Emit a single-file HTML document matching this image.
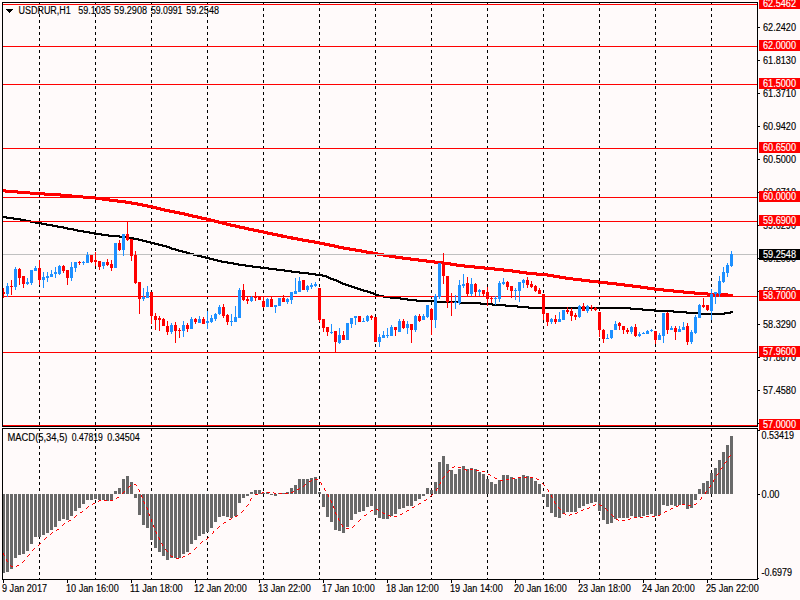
<!DOCTYPE html>
<html><head><meta charset="utf-8"><title>USDRUR,H1</title>
<style>html,body{margin:0;padding:0;background:#FFFAFA;}body{width:800px;height:600px;overflow:hidden;}svg{display:block;}text{font-family:"Liberation Sans",sans-serif;font-size:10px;stroke-width:0.15px;paint-order:stroke;}</style>
</head><body>
<svg width="800" height="600" viewBox="0 0 800 600">
<rect x="0" y="0" width="800" height="600" fill="#FFFAFA"/>
<g shape-rendering="crispEdges" stroke="#000" stroke-width="1" stroke-dasharray="3 3">
<line x1="39.5" y1="2" x2="39.5" y2="579"/>
<line x1="95.5" y1="2" x2="95.5" y2="579"/>
<line x1="151.5" y1="2" x2="151.5" y2="579"/>
<line x1="207.5" y1="2" x2="207.5" y2="579"/>
<line x1="263.5" y1="2" x2="263.5" y2="579"/>
<line x1="319.5" y1="2" x2="319.5" y2="579"/>
<line x1="375.5" y1="2" x2="375.5" y2="579"/>
<line x1="431.5" y1="2" x2="431.5" y2="579"/>
<line x1="487.5" y1="2" x2="487.5" y2="579"/>
<line x1="543.5" y1="2" x2="543.5" y2="579"/>
<line x1="599.5" y1="2" x2="599.5" y2="579"/>
<line x1="655.5" y1="2" x2="655.5" y2="579"/>
<line x1="711.5" y1="2" x2="711.5" y2="579"/>
</g>
<path shape-rendering="crispEdges" fill="#FF0000" d="M3,189h2v3h-2zM5,189h1v4h-1zM6,190h11v3h-11zM17,190h1v4h-1zM18,191h12v3h-12zM30,192h14v3h-14zM44,192h1v4h-1zM45,193h15v3h-15zM60,193h1v4h-1zM61,194h10v3h-10zM71,194h1v4h-1zM72,195h11v3h-11zM83,196h12v3h-12zM95,196h1v4h-1zM96,197h6v3h-6zM102,197h1v4h-1zM103,198h6v3h-6zM109,198h1v4h-1zM110,199h7v3h-7zM117,199h1v4h-1zM118,200h7v3h-7zM125,200h1v4h-1zM126,201h5v3h-5zM131,201h1v4h-1zM132,202h5v3h-5zM137,202h1v4h-1zM138,203h4v3h-4zM142,203h1v4h-1zM143,204h4v3h-4zM147,204h1v4h-1zM148,205h4v3h-4zM152,205h1v4h-1zM153,206h3v3h-3zM156,206h1v4h-1zM157,207h3v3h-3zM160,207h1v4h-1zM161,208h3v3h-3zM164,208h1v4h-1zM165,209h4v3h-4zM169,209h1v4h-1zM170,210h4v3h-4zM174,210h1v4h-1zM175,211h4v3h-4zM179,211h1v4h-1zM180,212h4v3h-4zM184,212h1v4h-1zM185,213h3v3h-3zM188,213h1v4h-1zM189,214h3v3h-3zM192,214h1v4h-1zM193,215h4v3h-4zM197,215h1v4h-1zM198,216h3v3h-3zM201,216h1v4h-1zM202,217h4v3h-4zM206,217h1v4h-1zM207,218h3v3h-3zM210,218h1v4h-1zM211,219h3v3h-3zM214,219h1v4h-1zM215,220h3v3h-3zM218,220h1v4h-1zM219,221h3v3h-3zM222,221h1v4h-1zM223,222h3v3h-3zM226,222h1v4h-1zM227,223h3v3h-3zM230,223h1v4h-1zM231,224h4v3h-4zM235,224h1v4h-1zM236,225h3v3h-3zM239,225h1v4h-1zM240,226h4v3h-4zM244,226h1v4h-1zM245,227h3v3h-3zM248,227h1v4h-1zM249,228h4v3h-4zM253,228h1v4h-1zM254,229h4v3h-4zM258,229h1v4h-1zM259,230h4v3h-4zM263,230h1v4h-1zM264,231h3v3h-3zM267,231h1v4h-1zM268,232h4v3h-4zM272,232h1v4h-1zM273,233h4v3h-4zM277,233h1v4h-1zM278,234h3v3h-3zM281,234h2v4h-2zM283,235h4v3h-4zM287,236h4v3h-4zM291,236h2v4h-2zM293,237h4v3h-4zM297,237h1v4h-1zM298,238h4v3h-4zM302,238h1v4h-1zM303,239h5v3h-5zM308,239h1v4h-1zM309,240h5v3h-5zM314,240h1v4h-1zM315,241h4v3h-4zM319,241h1v4h-1zM320,242h4v3h-4zM324,242h1v4h-1zM325,243h4v3h-4zM329,243h1v4h-1zM330,244h4v3h-4zM334,244h1v4h-1zM335,245h3v3h-3zM338,245h1v4h-1zM339,246h4v3h-4zM343,246h1v4h-1zM344,247h5v3h-5zM349,247h1v4h-1zM350,248h5v3h-5zM355,248h1v4h-1zM356,249h5v3h-5zM361,249h1v4h-1zM362,250h4v3h-4zM366,250h1v4h-1zM367,251h5v3h-5zM372,251h1v4h-1zM373,252h4v3h-4zM377,252h1v4h-1zM378,253h5v3h-5zM383,253h1v4h-1zM384,254h5v3h-5zM389,254h1v4h-1zM390,255h5v3h-5zM395,255h1v4h-1zM396,256h6v3h-6zM402,256h1v4h-1zM403,257h7v3h-7zM410,257h1v4h-1zM411,258h7v3h-7zM418,258h1v4h-1zM419,259h7v3h-7zM426,259h1v4h-1zM427,260h7v3h-7zM434,260h1v4h-1zM435,261h8v3h-8zM443,261h1v4h-1zM444,262h6v3h-6zM450,262h1v4h-1zM451,263h5v3h-5zM456,263h1v4h-1zM457,264h7v3h-7zM464,264h1v4h-1zM465,265h9v3h-9zM474,265h1v4h-1zM475,266h9v3h-9zM484,266h1v4h-1zM485,267h9v3h-9zM494,267h1v4h-1zM495,268h8v3h-8zM503,268h1v4h-1zM504,269h8v3h-8zM512,269h1v4h-1zM513,270h6v3h-6zM519,270h1v4h-1zM520,271h6v3h-6zM526,271h1v4h-1zM527,272h9v3h-9zM536,272h1v4h-1zM537,273h10v3h-10zM547,273h1v4h-1zM548,274h5v3h-5zM553,274h1v4h-1zM554,275h5v3h-5zM559,275h1v4h-1zM560,276h5v3h-5zM565,276h1v4h-1zM566,277h7v3h-7zM573,278h8v3h-8zM581,278h1v4h-1zM582,279h7v3h-7zM589,279h1v4h-1zM590,280h8v3h-8zM598,280h1v4h-1zM599,281h8v3h-8zM607,281h1v4h-1zM608,282h8v3h-8zM616,282h1v4h-1zM617,283h7v3h-7zM624,283h1v4h-1zM625,284h7v3h-7zM632,284h1v4h-1zM633,285h7v3h-7zM640,285h1v4h-1zM641,286h6v3h-6zM647,286h1v4h-1zM648,287h6v3h-6zM654,287h1v4h-1zM655,288h8v3h-8zM663,288h1v4h-1zM664,289h9v3h-9zM673,289h1v4h-1zM674,290h9v3h-9zM683,290h1v4h-1zM684,291h10v3h-10zM694,291h1v4h-1zM695,292h12v3h-12zM707,292h1v4h-1zM708,293h19v3h-19zM727,293h1v4h-1zM728,294h5v3h-5z"/>
<path shape-rendering="crispEdges" fill="#000" d="M3,216h3v2h-3zM6,216h1v3h-1zM7,217h6v2h-6zM13,217h1v3h-1zM14,218h6v2h-6zM20,218h1v3h-1zM21,219h4v2h-4zM25,219h1v3h-1zM26,220h4v2h-4zM30,220h1v3h-1zM31,221h4v2h-4zM35,221h1v3h-1zM36,222h5v2h-5zM41,222h1v3h-1zM42,223h4v2h-4zM46,223h1v3h-1zM47,224h5v2h-5zM52,224h1v3h-1zM53,225h4v2h-4zM57,225h1v3h-1zM58,226h5v2h-5zM63,226h1v3h-1zM64,227h3v2h-3zM67,227h1v3h-1zM68,228h5v2h-5zM73,228h1v3h-1zM74,229h3v2h-3zM77,229h1v3h-1zM78,230h5v2h-5zM83,230h1v3h-1zM84,231h5v2h-5zM89,231h1v3h-1zM90,232h4v2h-4zM94,232h1v3h-1zM95,233h6v2h-6zM101,233h1v3h-1zM102,234h6v2h-6zM108,234h1v3h-1zM109,235h10v2h-10zM119,235h1v3h-1zM120,236h8v2h-8zM128,236h1v3h-1zM129,237h4v2h-4zM133,237h1v3h-1zM134,238h4v2h-4zM138,238h1v3h-1zM139,239h3v2h-3zM142,239h1v3h-1zM143,240h3v2h-3zM146,240h1v3h-1zM147,241h3v2h-3zM150,241h1v3h-1zM151,242h3v2h-3zM154,242h1v3h-1zM155,243h3v2h-3zM158,243h1v3h-1zM159,244h3v2h-3zM162,244h1v3h-1zM163,245h3v2h-3zM166,245h1v3h-1zM167,246h2v2h-2zM169,246h1v3h-1zM170,247h1v2h-1zM171,247h1v3h-1zM172,248h3v2h-3zM175,248h1v3h-1zM176,249h2v2h-2zM178,249h1v3h-1zM179,250h3v2h-3zM182,250h1v3h-1zM183,251h3v2h-3zM186,251h1v3h-1zM187,252h2v2h-2zM189,252h1v3h-1zM190,253h3v2h-3zM193,253h1v3h-1zM194,254h3v2h-3zM197,254h1v3h-1zM198,255h3v2h-3zM201,255h1v3h-1zM202,256h3v2h-3zM205,256h1v3h-1zM206,257h3v2h-3zM209,257h1v3h-1zM210,258h3v2h-3zM213,258h1v3h-1zM214,259h3v2h-3zM217,259h1v3h-1zM218,260h3v2h-3zM221,260h1v3h-1zM222,261h5v2h-5zM227,261h1v3h-1zM228,262h5v2h-5zM233,262h1v3h-1zM234,263h4v2h-4zM238,263h1v3h-1zM239,264h6v2h-6zM245,264h1v3h-1zM246,265h6v2h-6zM252,265h1v3h-1zM253,266h7v2h-7zM260,266h1v3h-1zM261,267h7v2h-7zM268,267h1v3h-1zM269,268h7v2h-7zM276,268h1v3h-1zM277,269h7v2h-7zM284,269h1v3h-1zM285,270h6v2h-6zM291,270h1v3h-1zM292,271h7v2h-7zM299,271h1v3h-1zM300,272h8v2h-8zM308,272h1v3h-1zM309,273h6v2h-6zM315,273h1v3h-1zM316,274h6v2h-6zM322,274h1v3h-1zM323,275h3v2h-3zM326,275h1v3h-1zM327,276h1v2h-1zM328,276h1v3h-1zM329,277h1v2h-1zM330,277h1v3h-1zM331,278h2v2h-2zM333,278h1v3h-1zM334,279h2v2h-2zM336,279h1v3h-1zM337,280h1v2h-1zM338,280h1v3h-1zM339,281h1v2h-1zM340,281h1v3h-1zM341,282h1v2h-1zM342,282h1v3h-1zM343,283h2v2h-2zM345,283h1v3h-1zM346,284h2v2h-2zM348,284h1v3h-1zM349,285h2v2h-2zM351,285h1v3h-1zM352,286h2v2h-2zM354,286h1v3h-1zM355,287h2v2h-2zM357,287h1v3h-1zM358,288h2v2h-2zM360,288h1v3h-1zM361,289h2v2h-2zM363,289h1v3h-1zM364,290h3v2h-3zM367,290h1v3h-1zM368,291h2v2h-2zM370,291h1v3h-1zM371,292h2v2h-2zM373,292h1v3h-1zM374,293h1v2h-1zM375,293h1v3h-1zM376,294h2v2h-2zM378,294h1v3h-1zM379,295h4v2h-4zM383,295h1v3h-1zM384,296h6v2h-6zM390,296h1v3h-1zM391,297h9v2h-9zM400,297h1v3h-1zM401,298h6v2h-6zM407,298h1v3h-1zM408,299h8v2h-8zM416,299h1v3h-1zM417,300h19v2h-19zM436,300h1v3h-1zM437,301h23v2h-23zM460,301h1v3h-1zM461,302h19v2h-19zM480,302h1v3h-1zM481,303h11v2h-11zM492,303h1v3h-1zM493,304h12v2h-12zM505,304h1v3h-1zM506,305h11v2h-11zM517,305h1v3h-1zM518,306h10v2h-10zM528,306h1v3h-1zM529,307h101v2h-101zM630,307h1v3h-1zM631,308h11v2h-11zM642,308h1v3h-1zM643,309h11v2h-11zM654,309h1v3h-1zM655,310h18v2h-18zM673,310h1v3h-1zM674,311h12v2h-12zM686,311h1v3h-1zM687,312h13v2h-13zM700,312h1v3h-1zM701,313h23v2h-23zM724,312h1v3h-1zM725,312h5v2h-5zM730,311h1v3h-1zM731,311h2v2h-2z"/>
<g shape-rendering="crispEdges">
<rect x="3" y="254" width="754" height="1" fill="#C0C0C0"/>
<rect x="3" y="4" width="754" height="1" fill="#FF0000"/>
<rect x="3" y="46" width="754" height="1" fill="#FF0000"/>
<rect x="3" y="84" width="754" height="1" fill="#FF0000"/>
<rect x="3" y="148" width="754" height="1" fill="#FF0000"/>
<rect x="3" y="197" width="754" height="1" fill="#FF0000"/>
<rect x="3" y="221" width="754" height="1" fill="#FF0000"/>
<rect x="3" y="296" width="754" height="1" fill="#FF0000"/>
<rect x="3" y="352" width="754" height="1" fill="#FF0000"/>
<rect x="3" y="425" width="754" height="1" fill="#FF0000"/>
</g>
<g shape-rendering="crispEdges">
<rect x="3" y="288" width="1" height="10" fill="#FF0000"/>
<rect x="2" y="292" width="3" height="2" fill="#FF0000"/>
<rect x="7" y="283" width="1" height="14" fill="#1E90FF"/>
<rect x="6" y="286" width="3" height="8" fill="#1E90FF"/>
<rect x="11" y="280" width="1" height="15" fill="#FF0000"/>
<rect x="10" y="286" width="3" height="1" fill="#FF0000"/>
<rect x="15" y="267" width="1" height="23" fill="#1E90FF"/>
<rect x="14" y="269" width="3" height="18" fill="#1E90FF"/>
<rect x="19" y="268" width="1" height="17" fill="#FF0000"/>
<rect x="18" y="269" width="3" height="9" fill="#FF0000"/>
<rect x="23" y="276" width="1" height="12" fill="#FF0000"/>
<rect x="22" y="276" width="3" height="8" fill="#FF0000"/>
<rect x="27" y="278" width="1" height="7" fill="#1E90FF"/>
<rect x="26" y="282" width="3" height="2" fill="#1E90FF"/>
<rect x="31" y="270" width="1" height="15" fill="#1E90FF"/>
<rect x="30" y="270" width="3" height="13" fill="#1E90FF"/>
<rect x="35" y="266" width="1" height="5" fill="#1E90FF"/>
<rect x="34" y="268" width="3" height="3" fill="#1E90FF"/>
<rect x="39" y="260" width="1" height="25" fill="#FF0000"/>
<rect x="38" y="268" width="3" height="12" fill="#FF0000"/>
<rect x="43" y="272" width="1" height="16" fill="#1E90FF"/>
<rect x="42" y="277" width="3" height="3" fill="#1E90FF"/>
<rect x="47" y="272" width="1" height="10" fill="#1E90FF"/>
<rect x="46" y="276" width="3" height="2" fill="#1E90FF"/>
<rect x="51" y="270" width="1" height="7" fill="#1E90FF"/>
<rect x="50" y="274" width="3" height="3" fill="#1E90FF"/>
<rect x="55" y="267" width="1" height="11" fill="#1E90FF"/>
<rect x="54" y="272" width="3" height="2" fill="#1E90FF"/>
<rect x="59" y="265" width="1" height="10" fill="#1E90FF"/>
<rect x="58" y="266" width="3" height="8" fill="#1E90FF"/>
<rect x="63" y="265" width="1" height="8" fill="#FF0000"/>
<rect x="62" y="266" width="3" height="5" fill="#FF0000"/>
<rect x="67" y="270" width="1" height="15" fill="#FF0000"/>
<rect x="66" y="270" width="3" height="8" fill="#FF0000"/>
<rect x="71" y="262" width="1" height="19" fill="#1E90FF"/>
<rect x="70" y="267" width="3" height="11" fill="#1E90FF"/>
<rect x="75" y="262" width="1" height="10" fill="#1E90FF"/>
<rect x="74" y="262" width="3" height="6" fill="#1E90FF"/>
<rect x="79" y="261" width="1" height="4" fill="#FF0000"/>
<rect x="78" y="262" width="3" height="1" fill="#FF0000"/>
<rect x="83" y="261" width="1" height="4" fill="#1E90FF"/>
<rect x="82" y="262" width="3" height="1" fill="#1E90FF"/>
<rect x="87" y="252" width="1" height="11" fill="#1E90FF"/>
<rect x="86" y="255" width="3" height="8" fill="#1E90FF"/>
<rect x="91" y="255" width="1" height="8" fill="#FF0000"/>
<rect x="90" y="255" width="3" height="7" fill="#FF0000"/>
<rect x="95" y="252" width="1" height="14" fill="#FF0000"/>
<rect x="94" y="260" width="3" height="2" fill="#FF0000"/>
<rect x="99" y="261" width="1" height="9" fill="#FF0000"/>
<rect x="98" y="261" width="3" height="6" fill="#FF0000"/>
<rect x="103" y="262" width="1" height="7" fill="#1E90FF"/>
<rect x="102" y="262" width="3" height="4" fill="#1E90FF"/>
<rect x="107" y="259" width="1" height="7" fill="#FF0000"/>
<rect x="106" y="262" width="3" height="3" fill="#FF0000"/>
<rect x="111" y="260" width="1" height="11" fill="#FF0000"/>
<rect x="110" y="264" width="3" height="4" fill="#FF0000"/>
<rect x="115" y="243" width="1" height="25" fill="#1E90FF"/>
<rect x="114" y="243" width="3" height="25" fill="#1E90FF"/>
<rect x="119" y="240" width="1" height="11" fill="#FF0000"/>
<rect x="118" y="243" width="3" height="7" fill="#FF0000"/>
<rect x="123" y="234" width="1" height="22" fill="#1E90FF"/>
<rect x="122" y="234" width="3" height="16" fill="#1E90FF"/>
<rect x="127" y="221" width="1" height="20" fill="#FF0000"/>
<rect x="126" y="234" width="3" height="6" fill="#FF0000"/>
<rect x="131" y="239" width="1" height="22" fill="#FF0000"/>
<rect x="130" y="239" width="3" height="17" fill="#FF0000"/>
<rect x="135" y="251" width="1" height="33" fill="#FF0000"/>
<rect x="134" y="255" width="3" height="28" fill="#FF0000"/>
<rect x="139" y="282" width="1" height="32" fill="#FF0000"/>
<rect x="138" y="282" width="3" height="17" fill="#FF0000"/>
<rect x="143" y="288" width="1" height="13" fill="#1E90FF"/>
<rect x="142" y="297" width="3" height="2" fill="#1E90FF"/>
<rect x="147" y="286" width="1" height="12" fill="#1E90FF"/>
<rect x="146" y="292" width="3" height="6" fill="#1E90FF"/>
<rect x="151" y="292" width="1" height="32" fill="#FF0000"/>
<rect x="150" y="292" width="3" height="24" fill="#FF0000"/>
<rect x="155" y="313" width="1" height="17" fill="#FF0000"/>
<rect x="154" y="316" width="3" height="4" fill="#FF0000"/>
<rect x="159" y="316" width="1" height="15" fill="#FF0000"/>
<rect x="158" y="318" width="3" height="2" fill="#FF0000"/>
<rect x="163" y="318" width="1" height="8" fill="#FF0000"/>
<rect x="162" y="319" width="3" height="7" fill="#FF0000"/>
<rect x="167" y="321" width="1" height="14" fill="#FF0000"/>
<rect x="166" y="326" width="3" height="6" fill="#FF0000"/>
<rect x="171" y="323" width="1" height="11" fill="#1E90FF"/>
<rect x="170" y="325" width="3" height="7" fill="#1E90FF"/>
<rect x="175" y="322" width="1" height="21" fill="#FF0000"/>
<rect x="174" y="325" width="3" height="6" fill="#FF0000"/>
<rect x="179" y="328" width="1" height="10" fill="#FF0000"/>
<rect x="178" y="330" width="3" height="1" fill="#FF0000"/>
<rect x="183" y="321" width="1" height="16" fill="#1E90FF"/>
<rect x="182" y="325" width="3" height="6" fill="#1E90FF"/>
<rect x="187" y="323" width="1" height="9" fill="#FF0000"/>
<rect x="186" y="325" width="3" height="4" fill="#FF0000"/>
<rect x="191" y="317" width="1" height="12" fill="#1E90FF"/>
<rect x="190" y="319" width="3" height="10" fill="#1E90FF"/>
<rect x="195" y="318" width="1" height="6" fill="#FF0000"/>
<rect x="194" y="319" width="3" height="3" fill="#FF0000"/>
<rect x="199" y="316" width="1" height="7" fill="#1E90FF"/>
<rect x="198" y="319" width="3" height="4" fill="#1E90FF"/>
<rect x="203" y="317" width="1" height="7" fill="#FF0000"/>
<rect x="202" y="319" width="3" height="5" fill="#FF0000"/>
<rect x="207" y="311" width="1" height="18" fill="#1E90FF"/>
<rect x="206" y="321" width="3" height="2" fill="#1E90FF"/>
<rect x="211" y="315" width="1" height="8" fill="#1E90FF"/>
<rect x="210" y="318" width="3" height="4" fill="#1E90FF"/>
<rect x="215" y="313" width="1" height="8" fill="#1E90FF"/>
<rect x="214" y="314" width="3" height="5" fill="#1E90FF"/>
<rect x="219" y="305" width="1" height="10" fill="#1E90FF"/>
<rect x="218" y="307" width="3" height="7" fill="#1E90FF"/>
<rect x="223" y="304" width="1" height="14" fill="#FF0000"/>
<rect x="222" y="307" width="3" height="9" fill="#FF0000"/>
<rect x="227" y="314" width="1" height="11" fill="#FF0000"/>
<rect x="226" y="315" width="3" height="7" fill="#FF0000"/>
<rect x="231" y="314" width="1" height="12" fill="#1E90FF"/>
<rect x="230" y="321" width="3" height="1" fill="#1E90FF"/>
<rect x="235" y="306" width="1" height="16" fill="#1E90FF"/>
<rect x="234" y="317" width="3" height="5" fill="#1E90FF"/>
<rect x="239" y="288" width="1" height="30" fill="#1E90FF"/>
<rect x="238" y="290" width="3" height="28" fill="#1E90FF"/>
<rect x="243" y="284" width="1" height="17" fill="#FF0000"/>
<rect x="242" y="290" width="3" height="10" fill="#FF0000"/>
<rect x="247" y="296" width="1" height="8" fill="#FF0000"/>
<rect x="246" y="299" width="3" height="2" fill="#FF0000"/>
<rect x="251" y="296" width="1" height="6" fill="#1E90FF"/>
<rect x="250" y="297" width="3" height="4" fill="#1E90FF"/>
<rect x="255" y="292" width="1" height="9" fill="#FF0000"/>
<rect x="254" y="296" width="3" height="2" fill="#FF0000"/>
<rect x="259" y="296" width="1" height="4" fill="#FF0000"/>
<rect x="258" y="296" width="3" height="4" fill="#FF0000"/>
<rect x="263" y="297" width="1" height="11" fill="#FF0000"/>
<rect x="262" y="301" width="3" height="6" fill="#FF0000"/>
<rect x="267" y="298" width="1" height="9" fill="#1E90FF"/>
<rect x="266" y="299" width="3" height="8" fill="#1E90FF"/>
<rect x="271" y="296" width="1" height="11" fill="#FF0000"/>
<rect x="270" y="299" width="3" height="8" fill="#FF0000"/>
<rect x="275" y="305" width="1" height="8" fill="#1E90FF"/>
<rect x="274" y="305" width="3" height="2" fill="#1E90FF"/>
<rect x="279" y="298" width="1" height="8" fill="#1E90FF"/>
<rect x="278" y="298" width="3" height="8" fill="#1E90FF"/>
<rect x="283" y="295" width="1" height="7" fill="#FF0000"/>
<rect x="282" y="298" width="3" height="4" fill="#FF0000"/>
<rect x="287" y="298" width="1" height="6" fill="#1E90FF"/>
<rect x="286" y="299" width="3" height="3" fill="#1E90FF"/>
<rect x="291" y="292" width="1" height="12" fill="#1E90FF"/>
<rect x="290" y="292" width="3" height="8" fill="#1E90FF"/>
<rect x="295" y="278" width="1" height="16" fill="#1E90FF"/>
<rect x="294" y="291" width="3" height="3" fill="#1E90FF"/>
<rect x="299" y="277" width="1" height="15" fill="#1E90FF"/>
<rect x="298" y="281" width="3" height="11" fill="#1E90FF"/>
<rect x="303" y="280" width="1" height="10" fill="#FF0000"/>
<rect x="302" y="280" width="3" height="10" fill="#FF0000"/>
<rect x="307" y="285" width="1" height="7" fill="#1E90FF"/>
<rect x="306" y="286" width="3" height="4" fill="#1E90FF"/>
<rect x="311" y="283" width="1" height="6" fill="#1E90FF"/>
<rect x="310" y="285" width="3" height="2" fill="#1E90FF"/>
<rect x="315" y="282" width="1" height="5" fill="#1E90FF"/>
<rect x="314" y="284" width="3" height="2" fill="#1E90FF"/>
<rect x="319" y="288" width="1" height="34" fill="#FF0000"/>
<rect x="318" y="288" width="3" height="32" fill="#FF0000"/>
<rect x="323" y="319" width="1" height="13" fill="#FF0000"/>
<rect x="322" y="319" width="3" height="9" fill="#FF0000"/>
<rect x="327" y="327" width="1" height="9" fill="#FF0000"/>
<rect x="326" y="327" width="3" height="5" fill="#FF0000"/>
<rect x="331" y="324" width="1" height="10" fill="#1E90FF"/>
<rect x="330" y="332" width="3" height="1" fill="#1E90FF"/>
<rect x="335" y="331" width="1" height="21" fill="#FF0000"/>
<rect x="334" y="331" width="3" height="11" fill="#FF0000"/>
<rect x="339" y="328" width="1" height="16" fill="#1E90FF"/>
<rect x="338" y="335" width="3" height="8" fill="#1E90FF"/>
<rect x="343" y="331" width="1" height="9" fill="#FF0000"/>
<rect x="342" y="335" width="3" height="5" fill="#FF0000"/>
<rect x="347" y="323" width="1" height="17" fill="#1E90FF"/>
<rect x="346" y="323" width="3" height="17" fill="#1E90FF"/>
<rect x="351" y="318" width="1" height="10" fill="#1E90FF"/>
<rect x="350" y="318" width="3" height="6" fill="#1E90FF"/>
<rect x="355" y="316" width="1" height="9" fill="#1E90FF"/>
<rect x="354" y="316" width="3" height="2" fill="#1E90FF"/>
<rect x="359" y="316" width="1" height="6" fill="#FF0000"/>
<rect x="358" y="316" width="3" height="6" fill="#FF0000"/>
<rect x="363" y="318" width="1" height="4" fill="#1E90FF"/>
<rect x="362" y="321" width="3" height="1" fill="#1E90FF"/>
<rect x="367" y="315" width="1" height="7" fill="#1E90FF"/>
<rect x="366" y="316" width="3" height="5" fill="#1E90FF"/>
<rect x="371" y="315" width="1" height="5" fill="#FF0000"/>
<rect x="370" y="316" width="3" height="2" fill="#FF0000"/>
<rect x="375" y="317" width="1" height="25" fill="#FF0000"/>
<rect x="374" y="317" width="3" height="25" fill="#FF0000"/>
<rect x="379" y="334" width="1" height="13" fill="#1E90FF"/>
<rect x="378" y="337" width="3" height="5" fill="#1E90FF"/>
<rect x="383" y="331" width="1" height="7" fill="#1E90FF"/>
<rect x="382" y="335" width="3" height="3" fill="#1E90FF"/>
<rect x="387" y="328" width="1" height="10" fill="#1E90FF"/>
<rect x="386" y="335" width="3" height="1" fill="#1E90FF"/>
<rect x="391" y="325" width="1" height="11" fill="#1E90FF"/>
<rect x="390" y="327" width="3" height="9" fill="#1E90FF"/>
<rect x="395" y="327" width="1" height="9" fill="#FF0000"/>
<rect x="394" y="327" width="3" height="3" fill="#FF0000"/>
<rect x="399" y="319" width="1" height="13" fill="#1E90FF"/>
<rect x="398" y="321" width="3" height="11" fill="#1E90FF"/>
<rect x="403" y="319" width="1" height="10" fill="#FF0000"/>
<rect x="402" y="321" width="3" height="7" fill="#FF0000"/>
<rect x="407" y="321" width="1" height="13" fill="#1E90FF"/>
<rect x="406" y="324" width="3" height="4" fill="#1E90FF"/>
<rect x="411" y="324" width="1" height="19" fill="#FF0000"/>
<rect x="410" y="324" width="3" height="6" fill="#FF0000"/>
<rect x="415" y="315" width="1" height="17" fill="#1E90FF"/>
<rect x="414" y="316" width="3" height="14" fill="#1E90FF"/>
<rect x="419" y="314" width="1" height="8" fill="#FF0000"/>
<rect x="418" y="316" width="3" height="5" fill="#FF0000"/>
<rect x="423" y="314" width="1" height="6" fill="#1E90FF"/>
<rect x="422" y="316" width="3" height="4" fill="#1E90FF"/>
<rect x="427" y="305" width="1" height="13" fill="#1E90FF"/>
<rect x="426" y="305" width="3" height="12" fill="#1E90FF"/>
<rect x="431" y="308" width="1" height="27" fill="#FF0000"/>
<rect x="430" y="309" width="3" height="11" fill="#FF0000"/>
<rect x="435" y="294" width="1" height="34" fill="#1E90FF"/>
<rect x="434" y="296" width="3" height="24" fill="#1E90FF"/>
<rect x="439" y="263" width="1" height="36" fill="#1E90FF"/>
<rect x="438" y="263" width="3" height="34" fill="#1E90FF"/>
<rect x="443" y="253" width="1" height="31" fill="#FF0000"/>
<rect x="442" y="262" width="3" height="14" fill="#FF0000"/>
<rect x="447" y="276" width="1" height="32" fill="#FF0000"/>
<rect x="446" y="276" width="3" height="26" fill="#FF0000"/>
<rect x="451" y="293" width="1" height="23" fill="#FF0000"/>
<rect x="450" y="302" width="3" height="1" fill="#FF0000"/>
<rect x="455" y="295" width="1" height="14" fill="#1E90FF"/>
<rect x="454" y="302" width="3" height="1" fill="#1E90FF"/>
<rect x="459" y="280" width="1" height="25" fill="#1E90FF"/>
<rect x="458" y="285" width="3" height="18" fill="#1E90FF"/>
<rect x="463" y="274" width="1" height="14" fill="#1E90FF"/>
<rect x="462" y="284" width="3" height="2" fill="#1E90FF"/>
<rect x="467" y="277" width="1" height="19" fill="#FF0000"/>
<rect x="466" y="283" width="3" height="11" fill="#FF0000"/>
<rect x="471" y="278" width="1" height="18" fill="#1E90FF"/>
<rect x="470" y="284" width="3" height="10" fill="#1E90FF"/>
<rect x="475" y="283" width="1" height="13" fill="#FF0000"/>
<rect x="474" y="284" width="3" height="8" fill="#FF0000"/>
<rect x="479" y="289" width="1" height="7" fill="#1E90FF"/>
<rect x="478" y="290" width="3" height="2" fill="#1E90FF"/>
<rect x="483" y="290" width="1" height="6" fill="#FF0000"/>
<rect x="482" y="290" width="3" height="4" fill="#FF0000"/>
<rect x="487" y="287" width="1" height="19" fill="#FF0000"/>
<rect x="486" y="292" width="3" height="7" fill="#FF0000"/>
<rect x="491" y="297" width="1" height="6" fill="#FF0000"/>
<rect x="490" y="298" width="3" height="1" fill="#FF0000"/>
<rect x="495" y="296" width="1" height="9" fill="#1E90FF"/>
<rect x="494" y="298" width="3" height="1" fill="#1E90FF"/>
<rect x="499" y="281" width="1" height="21" fill="#1E90FF"/>
<rect x="498" y="283" width="3" height="16" fill="#1E90FF"/>
<rect x="503" y="278" width="1" height="7" fill="#1E90FF"/>
<rect x="502" y="282" width="3" height="2" fill="#1E90FF"/>
<rect x="507" y="281" width="1" height="9" fill="#FF0000"/>
<rect x="506" y="282" width="3" height="5" fill="#FF0000"/>
<rect x="511" y="286" width="1" height="12" fill="#FF0000"/>
<rect x="510" y="286" width="3" height="5" fill="#FF0000"/>
<rect x="515" y="288" width="1" height="12" fill="#1E90FF"/>
<rect x="514" y="290" width="3" height="1" fill="#1E90FF"/>
<rect x="519" y="282" width="1" height="20" fill="#1E90FF"/>
<rect x="518" y="282" width="3" height="9" fill="#1E90FF"/>
<rect x="523" y="279" width="1" height="9" fill="#1E90FF"/>
<rect x="522" y="280" width="3" height="3" fill="#1E90FF"/>
<rect x="527" y="277" width="1" height="11" fill="#FF0000"/>
<rect x="526" y="280" width="3" height="5" fill="#FF0000"/>
<rect x="531" y="281" width="1" height="7" fill="#FF0000"/>
<rect x="530" y="284" width="3" height="3" fill="#FF0000"/>
<rect x="535" y="285" width="1" height="7" fill="#FF0000"/>
<rect x="534" y="286" width="3" height="5" fill="#FF0000"/>
<rect x="539" y="288" width="1" height="6" fill="#FF0000"/>
<rect x="538" y="290" width="3" height="4" fill="#FF0000"/>
<rect x="543" y="294" width="1" height="26" fill="#FF0000"/>
<rect x="542" y="294" width="3" height="20" fill="#FF0000"/>
<rect x="547" y="313" width="1" height="13" fill="#FF0000"/>
<rect x="546" y="313" width="3" height="9" fill="#FF0000"/>
<rect x="551" y="318" width="1" height="6" fill="#1E90FF"/>
<rect x="550" y="319" width="3" height="3" fill="#1E90FF"/>
<rect x="555" y="315" width="1" height="9" fill="#FF0000"/>
<rect x="554" y="319" width="3" height="3" fill="#FF0000"/>
<rect x="559" y="312" width="1" height="10" fill="#1E90FF"/>
<rect x="558" y="319" width="3" height="3" fill="#1E90FF"/>
<rect x="563" y="310" width="1" height="10" fill="#1E90FF"/>
<rect x="562" y="310" width="3" height="10" fill="#1E90FF"/>
<rect x="567" y="307" width="1" height="7" fill="#FF0000"/>
<rect x="566" y="310" width="3" height="2" fill="#FF0000"/>
<rect x="571" y="308" width="1" height="13" fill="#FF0000"/>
<rect x="570" y="311" width="3" height="5" fill="#FF0000"/>
<rect x="575" y="313" width="1" height="7" fill="#FF0000"/>
<rect x="574" y="315" width="3" height="2" fill="#FF0000"/>
<rect x="579" y="305" width="1" height="13" fill="#1E90FF"/>
<rect x="578" y="306" width="3" height="11" fill="#1E90FF"/>
<rect x="583" y="303" width="1" height="8" fill="#FF0000"/>
<rect x="582" y="306" width="3" height="5" fill="#FF0000"/>
<rect x="587" y="305" width="1" height="8" fill="#1E90FF"/>
<rect x="586" y="306" width="3" height="5" fill="#1E90FF"/>
<rect x="591" y="305" width="1" height="6" fill="#FF0000"/>
<rect x="590" y="307" width="3" height="1" fill="#FF0000"/>
<rect x="595" y="307" width="1" height="4" fill="#FF0000"/>
<rect x="594" y="308" width="3" height="2" fill="#FF0000"/>
<rect x="599" y="312" width="1" height="25" fill="#FF0000"/>
<rect x="598" y="312" width="3" height="18" fill="#FF0000"/>
<rect x="603" y="329" width="1" height="14" fill="#FF0000"/>
<rect x="602" y="330" width="3" height="9" fill="#FF0000"/>
<rect x="607" y="334" width="1" height="5" fill="#1E90FF"/>
<rect x="606" y="338" width="3" height="1" fill="#1E90FF"/>
<rect x="611" y="330" width="1" height="9" fill="#1E90FF"/>
<rect x="610" y="330" width="3" height="8" fill="#1E90FF"/>
<rect x="615" y="321" width="1" height="9" fill="#1E90FF"/>
<rect x="614" y="324" width="3" height="6" fill="#1E90FF"/>
<rect x="619" y="322" width="1" height="8" fill="#FF0000"/>
<rect x="618" y="323" width="3" height="3" fill="#FF0000"/>
<rect x="623" y="326" width="1" height="8" fill="#FF0000"/>
<rect x="622" y="326" width="3" height="4" fill="#FF0000"/>
<rect x="627" y="328" width="1" height="6" fill="#FF0000"/>
<rect x="626" y="330" width="3" height="2" fill="#FF0000"/>
<rect x="631" y="326" width="1" height="8" fill="#1E90FF"/>
<rect x="630" y="327" width="3" height="5" fill="#1E90FF"/>
<rect x="635" y="324" width="1" height="13" fill="#FF0000"/>
<rect x="634" y="327" width="3" height="9" fill="#FF0000"/>
<rect x="639" y="332" width="1" height="5" fill="#1E90FF"/>
<rect x="638" y="334" width="3" height="2" fill="#1E90FF"/>
<rect x="643" y="332" width="1" height="2" fill="#1E90FF"/>
<rect x="642" y="333" width="3" height="1" fill="#1E90FF"/>
<rect x="647" y="330" width="1" height="4" fill="#1E90FF"/>
<rect x="646" y="331" width="3" height="3" fill="#1E90FF"/>
<rect x="651" y="329" width="1" height="3" fill="#1E90FF"/>
<rect x="650" y="330" width="3" height="1" fill="#1E90FF"/>
<rect x="655" y="331" width="1" height="13" fill="#FF0000"/>
<rect x="654" y="331" width="3" height="9" fill="#FF0000"/>
<rect x="659" y="333" width="1" height="7" fill="#1E90FF"/>
<rect x="658" y="335" width="3" height="5" fill="#1E90FF"/>
<rect x="663" y="313" width="1" height="30" fill="#1E90FF"/>
<rect x="662" y="313" width="3" height="23" fill="#1E90FF"/>
<rect x="667" y="312" width="1" height="22" fill="#FF0000"/>
<rect x="666" y="313" width="3" height="17" fill="#FF0000"/>
<rect x="671" y="326" width="1" height="4" fill="#1E90FF"/>
<rect x="670" y="328" width="3" height="2" fill="#1E90FF"/>
<rect x="675" y="326" width="1" height="14" fill="#FF0000"/>
<rect x="674" y="328" width="3" height="4" fill="#FF0000"/>
<rect x="679" y="326" width="1" height="6" fill="#1E90FF"/>
<rect x="678" y="329" width="3" height="3" fill="#1E90FF"/>
<rect x="683" y="322" width="1" height="8" fill="#1E90FF"/>
<rect x="682" y="327" width="3" height="3" fill="#1E90FF"/>
<rect x="687" y="323" width="1" height="22" fill="#FF0000"/>
<rect x="686" y="326" width="3" height="16" fill="#FF0000"/>
<rect x="691" y="330" width="1" height="14" fill="#1E90FF"/>
<rect x="690" y="332" width="3" height="10" fill="#1E90FF"/>
<rect x="695" y="315" width="1" height="19" fill="#1E90FF"/>
<rect x="694" y="317" width="3" height="16" fill="#1E90FF"/>
<rect x="699" y="304" width="1" height="14" fill="#1E90FF"/>
<rect x="698" y="305" width="3" height="13" fill="#1E90FF"/>
<rect x="703" y="298" width="1" height="10" fill="#FF0000"/>
<rect x="702" y="305" width="3" height="2" fill="#FF0000"/>
<rect x="707" y="305" width="1" height="6" fill="#FF0000"/>
<rect x="706" y="305" width="3" height="5" fill="#FF0000"/>
<rect x="711" y="289" width="1" height="31" fill="#1E90FF"/>
<rect x="710" y="294" width="3" height="17" fill="#1E90FF"/>
<rect x="715" y="292" width="1" height="12" fill="#1E90FF"/>
<rect x="714" y="292" width="3" height="2" fill="#1E90FF"/>
<rect x="719" y="276" width="1" height="21" fill="#1E90FF"/>
<rect x="718" y="281" width="3" height="13" fill="#1E90FF"/>
<rect x="723" y="267" width="1" height="16" fill="#1E90FF"/>
<rect x="722" y="272" width="3" height="10" fill="#1E90FF"/>
<rect x="727" y="263" width="1" height="14" fill="#1E90FF"/>
<rect x="726" y="265" width="3" height="8" fill="#1E90FF"/>
<rect x="731" y="251" width="1" height="16" fill="#1E90FF"/>
<rect x="730" y="254" width="3" height="12" fill="#1E90FF"/>
</g>
<g shape-rendering="crispEdges" fill="#696969">
<rect x="2" y="494" width="3" height="79"/>
<rect x="6" y="494" width="3" height="78"/>
<rect x="10" y="494" width="3" height="75"/>
<rect x="14" y="494" width="3" height="64"/>
<rect x="18" y="494" width="3" height="61"/>
<rect x="22" y="494" width="3" height="60"/>
<rect x="26" y="494" width="3" height="57"/>
<rect x="30" y="494" width="3" height="50"/>
<rect x="34" y="494" width="3" height="43"/>
<rect x="38" y="494" width="3" height="43"/>
<rect x="42" y="494" width="3" height="41"/>
<rect x="46" y="494" width="3" height="39"/>
<rect x="50" y="494" width="3" height="36"/>
<rect x="54" y="494" width="3" height="33"/>
<rect x="58" y="494" width="3" height="27"/>
<rect x="62" y="494" width="3" height="25"/>
<rect x="66" y="494" width="3" height="26"/>
<rect x="70" y="494" width="3" height="22"/>
<rect x="74" y="494" width="3" height="17"/>
<rect x="78" y="494" width="3" height="14"/>
<rect x="82" y="494" width="3" height="10"/>
<rect x="86" y="494" width="3" height="6"/>
<rect x="90" y="494" width="3" height="6"/>
<rect x="94" y="494" width="3" height="5"/>
<rect x="98" y="494" width="3" height="6"/>
<rect x="102" y="494" width="3" height="6"/>
<rect x="106" y="494" width="3" height="7"/>
<rect x="110" y="494" width="3" height="7"/>
<rect x="114" y="491" width="3" height="3"/>
<rect x="118" y="488" width="3" height="6"/>
<rect x="122" y="479" width="3" height="15"/>
<rect x="126" y="476" width="3" height="18"/>
<rect x="130" y="482" width="3" height="12"/>
<rect x="134" y="494" width="3" height="4"/>
<rect x="138" y="494" width="3" height="21"/>
<rect x="142" y="494" width="3" height="31"/>
<rect x="146" y="494" width="3" height="34"/>
<rect x="150" y="494" width="3" height="46"/>
<rect x="154" y="494" width="3" height="54"/>
<rect x="158" y="494" width="3" height="58"/>
<rect x="162" y="494" width="3" height="62"/>
<rect x="166" y="494" width="3" height="66"/>
<rect x="170" y="494" width="3" height="64"/>
<rect x="174" y="494" width="3" height="64"/>
<rect x="178" y="494" width="3" height="64"/>
<rect x="182" y="494" width="3" height="60"/>
<rect x="186" y="494" width="3" height="58"/>
<rect x="190" y="494" width="3" height="50"/>
<rect x="194" y="494" width="3" height="46"/>
<rect x="198" y="494" width="3" height="42"/>
<rect x="202" y="494" width="3" height="40"/>
<rect x="206" y="494" width="3" height="38"/>
<rect x="210" y="494" width="3" height="34"/>
<rect x="214" y="494" width="3" height="28"/>
<rect x="218" y="494" width="3" height="23"/>
<rect x="222" y="494" width="3" height="22"/>
<rect x="226" y="494" width="3" height="23"/>
<rect x="230" y="494" width="3" height="24"/>
<rect x="234" y="494" width="3" height="22"/>
<rect x="238" y="494" width="3" height="9"/>
<rect x="242" y="494" width="3" height="4"/>
<rect x="246" y="494" width="3" height="2"/>
<rect x="250" y="492" width="3" height="2"/>
<rect x="254" y="490" width="3" height="4"/>
<rect x="258" y="490" width="3" height="4"/>
<rect x="262" y="493" width="3" height="1"/>
<rect x="266" y="492" width="3" height="2"/>
<rect x="270" y="494" width="3" height="1"/>
<rect x="274" y="494" width="3" height="2"/>
<rect x="278" y="493" width="3" height="1"/>
<rect x="282" y="493" width="3" height="1"/>
<rect x="286" y="492" width="3" height="2"/>
<rect x="290" y="488" width="3" height="6"/>
<rect x="294" y="485" width="3" height="9"/>
<rect x="298" y="479" width="3" height="15"/>
<rect x="302" y="479" width="3" height="15"/>
<rect x="306" y="479" width="3" height="15"/>
<rect x="310" y="478" width="3" height="16"/>
<rect x="314" y="477" width="3" height="17"/>
<rect x="318" y="492" width="3" height="2"/>
<rect x="322" y="494" width="3" height="13"/>
<rect x="326" y="494" width="3" height="23"/>
<rect x="330" y="494" width="3" height="28"/>
<rect x="334" y="494" width="3" height="36"/>
<rect x="338" y="494" width="3" height="37"/>
<rect x="342" y="494" width="3" height="39"/>
<rect x="346" y="494" width="3" height="33"/>
<rect x="350" y="494" width="3" height="26"/>
<rect x="354" y="494" width="3" height="20"/>
<rect x="358" y="494" width="3" height="18"/>
<rect x="362" y="494" width="3" height="17"/>
<rect x="366" y="494" width="3" height="13"/>
<rect x="370" y="494" width="3" height="12"/>
<rect x="374" y="494" width="3" height="21"/>
<rect x="378" y="494" width="3" height="24"/>
<rect x="382" y="494" width="3" height="25"/>
<rect x="386" y="494" width="3" height="25"/>
<rect x="390" y="494" width="3" height="22"/>
<rect x="394" y="494" width="3" height="20"/>
<rect x="398" y="494" width="3" height="15"/>
<rect x="402" y="494" width="3" height="14"/>
<rect x="406" y="494" width="3" height="12"/>
<rect x="410" y="494" width="3" height="12"/>
<rect x="414" y="494" width="3" height="7"/>
<rect x="418" y="494" width="3" height="5"/>
<rect x="422" y="494" width="3" height="2"/>
<rect x="426" y="488" width="3" height="6"/>
<rect x="430" y="490" width="3" height="4"/>
<rect x="434" y="482" width="3" height="12"/>
<rect x="438" y="462" width="3" height="32"/>
<rect x="442" y="456" width="3" height="38"/>
<rect x="446" y="464" width="3" height="30"/>
<rect x="450" y="470" width="3" height="24"/>
<rect x="454" y="474" width="3" height="20"/>
<rect x="458" y="469" width="3" height="25"/>
<rect x="462" y="466" width="3" height="28"/>
<rect x="466" y="469" width="3" height="25"/>
<rect x="470" y="468" width="3" height="26"/>
<rect x="474" y="469" width="3" height="25"/>
<rect x="478" y="472" width="3" height="22"/>
<rect x="482" y="474" width="3" height="20"/>
<rect x="486" y="479" width="3" height="15"/>
<rect x="490" y="482" width="3" height="12"/>
<rect x="494" y="484" width="3" height="10"/>
<rect x="498" y="480" width="3" height="14"/>
<rect x="502" y="475" width="3" height="19"/>
<rect x="506" y="475" width="3" height="19"/>
<rect x="510" y="477" width="3" height="17"/>
<rect x="514" y="479" width="3" height="15"/>
<rect x="518" y="477" width="3" height="17"/>
<rect x="522" y="475" width="3" height="19"/>
<rect x="526" y="476" width="3" height="18"/>
<rect x="530" y="478" width="3" height="16"/>
<rect x="534" y="481" width="3" height="13"/>
<rect x="538" y="484" width="3" height="10"/>
<rect x="542" y="494" width="3" height="3"/>
<rect x="546" y="494" width="3" height="13"/>
<rect x="550" y="494" width="3" height="19"/>
<rect x="554" y="494" width="3" height="23"/>
<rect x="558" y="494" width="3" height="24"/>
<rect x="562" y="494" width="3" height="20"/>
<rect x="566" y="494" width="3" height="18"/>
<rect x="570" y="494" width="3" height="18"/>
<rect x="574" y="494" width="3" height="18"/>
<rect x="578" y="494" width="3" height="14"/>
<rect x="582" y="494" width="3" height="12"/>
<rect x="586" y="494" width="3" height="10"/>
<rect x="590" y="494" width="3" height="9"/>
<rect x="594" y="494" width="3" height="8"/>
<rect x="598" y="494" width="3" height="17"/>
<rect x="602" y="494" width="3" height="26"/>
<rect x="606" y="494" width="3" height="30"/>
<rect x="610" y="494" width="3" height="29"/>
<rect x="614" y="494" width="3" height="25"/>
<rect x="618" y="494" width="3" height="24"/>
<rect x="622" y="494" width="3" height="24"/>
<rect x="626" y="494" width="3" height="24"/>
<rect x="630" y="494" width="3" height="22"/>
<rect x="634" y="494" width="3" height="23"/>
<rect x="638" y="494" width="3" height="23"/>
<rect x="642" y="494" width="3" height="22"/>
<rect x="646" y="494" width="3" height="21"/>
<rect x="650" y="494" width="3" height="20"/>
<rect x="654" y="494" width="3" height="22"/>
<rect x="658" y="494" width="3" height="21"/>
<rect x="662" y="494" width="3" height="11"/>
<rect x="666" y="494" width="3" height="12"/>
<rect x="670" y="494" width="3" height="11"/>
<rect x="674" y="494" width="3" height="12"/>
<rect x="678" y="494" width="3" height="11"/>
<rect x="682" y="494" width="3" height="10"/>
<rect x="686" y="494" width="3" height="15"/>
<rect x="690" y="494" width="3" height="14"/>
<rect x="694" y="494" width="3" height="6"/>
<rect x="698" y="489" width="3" height="5"/>
<rect x="702" y="483" width="3" height="11"/>
<rect x="706" y="481" width="3" height="13"/>
<rect x="710" y="473" width="3" height="21"/>
<rect x="714" y="468" width="3" height="26"/>
<rect x="718" y="460" width="3" height="34"/>
<rect x="722" y="452" width="3" height="42"/>
<rect x="726" y="445" width="3" height="49"/>
<rect x="730" y="436" width="3" height="58"/>
</g>
<path shape-rendering="crispEdges" fill="#FF0000" d="M3,553h1v1h-1zM3,554h1v1h-1zM4,555h1v1h-1zM6,559h1v1h-1zM6,560h1v1h-1zM7,561h1v1h-1zM10,565h1v1h-1zM11,566h1v1h-1zM12,566h1v1h-1zM16,566h1v1h-1zM17,565h1v1h-1zM18,565h1v1h-1zM22,562h1v1h-1zM23,561h1v1h-1zM24,560h1v1h-1zM27,556h1v1h-1zM28,555h1v1h-1zM29,554h1v1h-1zM32,550h1v1h-1zM33,549h1v1h-1zM34,548h1v1h-1zM38,545h1v1h-1zM39,544h1v1h-1zM40,543h1v1h-1zM44,539h1v1h-1zM45,538h1v1h-1zM46,537h1v1h-1zM50,534h1v1h-1zM51,533h1v1h-1zM52,532h1v1h-1zM56,530h1v1h-1zM57,529h1v1h-1zM58,529h1v1h-1zM62,525h1v1h-1zM63,524h1v1h-1zM64,523h1v1h-1zM68,521h1v1h-1zM69,520h1v1h-1zM70,520h1v1h-1zM74,517h1v1h-1zM75,516h1v1h-1zM76,515h1v1h-1zM80,512h1v1h-1zM81,512h1v1h-1zM82,511h1v1h-1zM86,508h1v1h-1zM87,507h1v1h-1zM88,506h1v1h-1zM92,504h1v1h-1zM93,503h1v1h-1zM94,503h1v1h-1zM98,501h1v1h-1zM99,500h1v1h-1zM100,500h1v1h-1zM104,500h1v1h-1zM105,500h1v1h-1zM106,500h1v1h-1zM110,500h1v1h-1zM111,500h1v1h-1zM112,500h1v1h-1zM116,498h1v1h-1zM117,497h1v1h-1zM118,497h1v1h-1zM122,493h1v1h-1zM123,492h1v1h-1zM124,491h1v1h-1zM128,487h1v1h-1zM129,486h1v1h-1zM130,485h1v1h-1zM134,484h1v1h-1zM135,484h1v1h-1zM136,485h1v1h-1zM138,489h1v1h-1zM139,490h1v1h-1zM139,491h1v1h-1zM141,495h1v1h-1zM141,496h1v1h-1zM142,497h1v1h-1zM143,501h1v1h-1zM144,502h1v1h-1zM144,503h1v1h-1zM146,507h1v1h-1zM147,508h1v1h-1zM147,509h1v1h-1zM148,513h1v1h-1zM149,514h1v1h-1zM149,515h1v1h-1zM151,519h1v1h-1zM151,520h1v1h-1zM151,521h1v1h-1zM153,525h1v1h-1zM153,526h1v1h-1zM154,527h1v1h-1zM155,531h1v1h-1zM156,532h1v1h-1zM156,533h1v1h-1zM158,537h1v1h-1zM159,538h1v1h-1zM159,539h1v1h-1zM161,543h1v1h-1zM162,544h1v1h-1zM162,545h1v1h-1zM165,549h1v1h-1zM166,550h1v1h-1zM167,551h1v1h-1zM170,555h1v1h-1zM171,556h1v1h-1zM172,556h1v1h-1zM176,558h1v1h-1zM177,558h1v1h-1zM178,558h1v1h-1zM182,557h1v1h-1zM183,556h1v1h-1zM184,556h1v1h-1zM188,554h1v1h-1zM189,553h1v1h-1zM190,553h1v1h-1zM194,549h1v1h-1zM195,548h1v1h-1zM196,547h1v1h-1zM200,543h1v1h-1zM201,542h1v1h-1zM202,541h1v1h-1zM206,539h1v1h-1zM207,538h1v1h-1zM208,537h1v1h-1zM212,533h1v1h-1zM213,532h1v1h-1zM213,531h1v1h-1zM217,528h1v1h-1zM218,527h1v1h-1zM219,526h1v1h-1zM223,523h1v1h-1zM224,522h1v1h-1zM225,522h1v1h-1zM229,519h1v1h-1zM230,519h1v1h-1zM231,518h1v1h-1zM235,516h1v1h-1zM236,516h1v1h-1zM237,515h1v1h-1zM241,512h1v1h-1zM242,511h1v1h-1zM243,510h1v1h-1zM246,506h1v1h-1zM247,505h1v1h-1zM248,504h1v1h-1zM250,500h1v1h-1zM250,499h1v1h-1zM251,498h1v1h-1zM255,494h1v1h-1zM256,494h1v1h-1zM257,494h1v1h-1zM261,493h1v1h-1zM262,492h1v1h-1zM263,492h1v1h-1zM267,492h1v1h-1zM268,492h1v1h-1zM269,492h1v1h-1zM273,492h1v1h-1zM274,493h1v1h-1zM275,493h1v1h-1zM279,493h1v1h-1zM280,493h1v1h-1zM281,493h1v1h-1zM285,493h1v1h-1zM286,493h1v1h-1zM287,493h1v1h-1zM291,492h1v1h-1zM292,492h1v1h-1zM293,491h1v1h-1zM297,489h1v1h-1zM298,489h1v1h-1zM299,488h1v1h-1zM303,486h1v1h-1zM304,485h1v1h-1zM305,484h1v1h-1zM309,481h1v1h-1zM310,481h1v1h-1zM311,480h1v1h-1zM315,479h1v1h-1zM316,479h1v1h-1zM317,479h1v1h-1zM320,482h1v1h-1zM321,483h1v1h-1zM321,484h1v1h-1zM324,488h1v1h-1zM324,489h1v1h-1zM325,490h1v1h-1zM327,494h1v1h-1zM328,495h1v1h-1zM328,496h1v1h-1zM330,500h1v1h-1zM331,501h1v1h-1zM331,502h1v1h-1zM333,506h1v1h-1zM333,507h1v1h-1zM334,508h1v1h-1zM335,512h1v1h-1zM335,513h1v1h-1zM336,514h1v1h-1zM338,518h1v1h-1zM338,519h1v1h-1zM339,520h1v1h-1zM341,524h1v1h-1zM342,525h1v1h-1zM342,526h1v1h-1zM346,528h1v1h-1zM347,528h1v1h-1zM348,528h1v1h-1zM352,527h1v1h-1zM353,526h1v1h-1zM354,525h1v1h-1zM358,521h1v1h-1zM359,520h1v1h-1zM360,519h1v1h-1zM364,515h1v1h-1zM365,515h1v1h-1zM366,514h1v1h-1zM370,511h1v1h-1zM371,510h1v1h-1zM372,510h1v1h-1zM376,509h1v1h-1zM377,509h1v1h-1zM378,510h1v1h-1zM382,512h1v1h-1zM383,513h1v1h-1zM384,513h1v1h-1zM388,515h1v1h-1zM389,515h1v1h-1zM390,516h1v1h-1zM394,516h1v1h-1zM395,516h1v1h-1zM396,516h1v1h-1zM400,514h1v1h-1zM401,514h1v1h-1zM402,513h1v1h-1zM406,511h1v1h-1zM407,510h1v1h-1zM408,510h1v1h-1zM412,507h1v1h-1zM413,507h1v1h-1zM414,506h1v1h-1zM418,504h1v1h-1zM419,503h1v1h-1zM420,503h1v1h-1zM424,500h1v1h-1zM425,500h1v1h-1zM426,499h1v1h-1zM430,496h1v1h-1zM431,495h1v1h-1zM432,494h1v1h-1zM436,490h1v1h-1zM436,489h1v1h-1zM437,488h1v1h-1zM439,484h1v1h-1zM440,483h1v1h-1zM440,482h1v1h-1zM442,478h1v1h-1zM443,477h1v1h-1zM444,476h1v1h-1zM447,472h1v1h-1zM448,471h1v1h-1zM449,470h1v1h-1zM452,467h1v1h-1zM453,467h1v1h-1zM454,466h1v1h-1zM458,467h1v1h-1zM459,467h1v1h-1zM460,467h1v1h-1zM464,469h1v1h-1zM465,469h1v1h-1zM466,470h1v1h-1zM470,469h1v1h-1zM471,469h1v1h-1zM472,469h1v1h-1zM476,470h1v1h-1zM477,470h1v1h-1zM478,470h1v1h-1zM482,471h1v1h-1zM483,471h1v1h-1zM484,471h1v1h-1zM488,474h1v1h-1zM489,474h1v1h-1zM490,475h1v1h-1zM494,477h1v1h-1zM495,478h1v1h-1zM496,478h1v1h-1zM500,480h1v1h-1zM501,480h1v1h-1zM502,480h1v1h-1zM506,479h1v1h-1zM507,479h1v1h-1zM508,479h1v1h-1zM512,478h1v1h-1zM513,478h1v1h-1zM514,478h1v1h-1zM518,477h1v1h-1zM519,477h1v1h-1zM520,477h1v1h-1zM524,477h1v1h-1zM525,477h1v1h-1zM526,477h1v1h-1zM530,477h1v1h-1zM531,477h1v1h-1zM532,477h1v1h-1zM536,478h1v1h-1zM537,479h1v1h-1zM538,479h1v1h-1zM542,483h1v1h-1zM543,484h1v1h-1zM544,485h1v1h-1zM547,489h1v1h-1zM548,490h1v1h-1zM548,491h1v1h-1zM551,495h1v1h-1zM551,496h1v1h-1zM552,497h1v1h-1zM554,501h1v1h-1zM554,502h1v1h-1zM555,503h1v1h-1zM558,507h1v1h-1zM559,508h1v1h-1zM560,509h1v1h-1zM563,513h1v1h-1zM564,513h1v1h-1zM565,514h1v1h-1zM569,515h1v1h-1zM570,514h1v1h-1zM571,514h1v1h-1zM575,513h1v1h-1zM576,513h1v1h-1zM577,512h1v1h-1zM581,510h1v1h-1zM582,510h1v1h-1zM583,509h1v1h-1zM587,508h1v1h-1zM588,508h1v1h-1zM589,507h1v1h-1zM593,505h1v1h-1zM594,505h1v1h-1zM595,504h1v1h-1zM599,504h1v1h-1zM600,505h1v1h-1zM601,505h1v1h-1zM605,508h1v1h-1zM606,509h1v1h-1zM607,510h1v1h-1zM611,514h1v1h-1zM612,515h1v1h-1zM613,516h1v1h-1zM616,519h1v1h-1zM617,519h1v1h-1zM618,520h1v1h-1zM622,520h1v1h-1zM623,520h1v1h-1zM624,520h1v1h-1zM628,519h1v1h-1zM629,519h1v1h-1zM630,518h1v1h-1zM634,517h1v1h-1zM635,517h1v1h-1zM636,517h1v1h-1zM640,517h1v1h-1zM641,517h1v1h-1zM642,517h1v1h-1zM646,516h1v1h-1zM647,516h1v1h-1zM648,516h1v1h-1zM652,516h1v1h-1zM653,516h1v1h-1zM654,516h1v1h-1zM658,515h1v1h-1zM659,515h1v1h-1zM660,514h1v1h-1zM664,512h1v1h-1zM665,511h1v1h-1zM666,511h1v1h-1zM670,509h1v1h-1zM671,508h1v1h-1zM672,508h1v1h-1zM676,506h1v1h-1zM677,506h1v1h-1zM678,505h1v1h-1zM682,504h1v1h-1zM683,504h1v1h-1zM684,504h1v1h-1zM688,505h1v1h-1zM689,505h1v1h-1zM690,505h1v1h-1zM694,504h1v1h-1zM695,504h1v1h-1zM696,503h1v1h-1zM700,499h1v1h-1zM701,498h1v1h-1zM701,497h1v1h-1zM705,493h1v1h-1zM705,492h1v1h-1zM706,491h1v1h-1zM709,487h1v1h-1zM710,486h1v1h-1zM710,485h1v1h-1zM713,481h1v1h-1zM713,480h1v1h-1zM714,479h1v1h-1zM716,475h1v1h-1zM717,474h1v1h-1zM718,473h1v1h-1zM720,469h1v1h-1zM721,468h1v1h-1zM722,467h1v1h-1zM724,463h1v1h-1zM725,462h1v1h-1zM726,461h1v1h-1zM728,457h1v1h-1zM729,456h1v1h-1zM730,455h1v1h-1z"/>
<g shape-rendering="crispEdges" fill="#000">
<rect x="2" y="2" width="756" height="1"/>
<rect x="2" y="2" width="1" height="425"/>
<rect x="2" y="426" width="756" height="1"/>
<rect x="757" y="2" width="1" height="425"/>
<rect x="2" y="428" width="756" height="1"/>
<rect x="2" y="428" width="1" height="152"/>
<rect x="757" y="428" width="1" height="152"/>
<rect x="2" y="579" width="756" height="1"/>
<rect x="758" y="578" width="1" height="1"/>
<rect x="758" y="27" width="2" height="1"/>
<rect x="758" y="60" width="2" height="1"/>
<rect x="758" y="93" width="2" height="1"/>
<rect x="758" y="126" width="2" height="1"/>
<rect x="758" y="159" width="2" height="1"/>
<rect x="758" y="192" width="2" height="1"/>
<rect x="758" y="225" width="2" height="1"/>
<rect x="758" y="258" width="2" height="1"/>
<rect x="758" y="291" width="2" height="1"/>
<rect x="758" y="324" width="2" height="1"/>
<rect x="758" y="357" width="2" height="1"/>
<rect x="758" y="390" width="2" height="1"/>
<rect x="758" y="423" width="2" height="1"/>
<rect x="758" y="430" width="2" height="1"/>
<rect x="758" y="494" width="2" height="1"/>
<rect x="3" y="580" width="1" height="3"/>
<rect x="67" y="580" width="1" height="3"/>
<rect x="131" y="580" width="1" height="3"/>
<rect x="195" y="580" width="1" height="3"/>
<rect x="259" y="580" width="1" height="3"/>
<rect x="323" y="580" width="1" height="3"/>
<rect x="387" y="580" width="1" height="3"/>
<rect x="451" y="580" width="1" height="3"/>
<rect x="515" y="580" width="1" height="3"/>
<rect x="579" y="580" width="1" height="3"/>
<rect x="643" y="580" width="1" height="3"/>
<rect x="707" y="580" width="1" height="3"/>
<rect x="6" y="9" width="7" height="1"/><rect x="7" y="10" width="5" height="1"/><rect x="8" y="11" width="3" height="1"/><rect x="9" y="12" width="1" height="1"/>
</g>
<text x="763" y="30.5" fill="#000" stroke="#000" textLength="33" lengthAdjust="spacingAndGlyphs">62.2420</text>
<text x="763" y="63.5" fill="#000" stroke="#000" textLength="33" lengthAdjust="spacingAndGlyphs">61.8130</text>
<text x="763" y="96.5" fill="#000" stroke="#000" textLength="33" lengthAdjust="spacingAndGlyphs">61.3710</text>
<text x="763" y="129.5" fill="#000" stroke="#000" textLength="33" lengthAdjust="spacingAndGlyphs">60.9420</text>
<text x="763" y="162.5" fill="#000" stroke="#000" textLength="33" lengthAdjust="spacingAndGlyphs">60.5000</text>
<text x="763" y="195.5" fill="#000" stroke="#000" textLength="33" lengthAdjust="spacingAndGlyphs">60.0710</text>
<text x="763" y="228.5" fill="#000" stroke="#000" textLength="33" lengthAdjust="spacingAndGlyphs">59.6290</text>
<text x="763" y="261.5" fill="#000" stroke="#000" textLength="33" lengthAdjust="spacingAndGlyphs">59.2000</text>
<text x="763" y="294.5" fill="#000" stroke="#000" textLength="33" lengthAdjust="spacingAndGlyphs">58.7500</text>
<text x="763" y="327.5" fill="#000" stroke="#000" textLength="33" lengthAdjust="spacingAndGlyphs">58.3290</text>
<text x="763" y="360.5" fill="#000" stroke="#000" textLength="33" lengthAdjust="spacingAndGlyphs">57.8870</text>
<text x="763" y="393.5" fill="#000" stroke="#000" textLength="33" lengthAdjust="spacingAndGlyphs">57.4580</text>
<g shape-rendering="crispEdges">
<rect x="759" y="0" width="41" height="9" fill="#FF0000"/>
<rect x="759" y="40" width="41" height="11" fill="#FF0000"/>
<rect x="759" y="78" width="41" height="11" fill="#FF0000"/>
<rect x="759" y="142" width="41" height="11" fill="#FF0000"/>
<rect x="759" y="191" width="41" height="11" fill="#FF0000"/>
<rect x="759" y="215" width="41" height="11" fill="#FF0000"/>
<rect x="759" y="290" width="41" height="11" fill="#FF0000"/>
<rect x="759" y="346" width="41" height="11" fill="#FF0000"/>
<rect x="759" y="419" width="41" height="11" fill="#FF0000"/>
<rect x="759" y="249" width="41" height="11" fill="#000"/>
</g>
<text x="763" y="6.5" fill="#fff" stroke="#fff" textLength="33" lengthAdjust="spacingAndGlyphs">62.5462</text>
<text x="763" y="49" fill="#fff" stroke="#fff" textLength="33" lengthAdjust="spacingAndGlyphs">62.0000</text>
<text x="763" y="87" fill="#fff" stroke="#fff" textLength="33" lengthAdjust="spacingAndGlyphs">61.5000</text>
<text x="763" y="151" fill="#fff" stroke="#fff" textLength="33" lengthAdjust="spacingAndGlyphs">60.6500</text>
<text x="763" y="200" fill="#fff" stroke="#fff" textLength="33" lengthAdjust="spacingAndGlyphs">60.0000</text>
<text x="763" y="224" fill="#fff" stroke="#fff" textLength="33" lengthAdjust="spacingAndGlyphs">59.6900</text>
<text x="763" y="299" fill="#fff" stroke="#fff" textLength="33" lengthAdjust="spacingAndGlyphs">58.7000</text>
<text x="763" y="355" fill="#fff" stroke="#fff" textLength="33" lengthAdjust="spacingAndGlyphs">57.9600</text>
<text x="763" y="428" fill="#fff" stroke="#fff" textLength="33" lengthAdjust="spacingAndGlyphs">57.0000</text>
<text x="763" y="258" fill="#fff" stroke="#fff" textLength="33" lengthAdjust="spacingAndGlyphs">59.2548</text>
<text x="761.5" y="439" fill="#000" stroke="#000" textLength="32.5" lengthAdjust="spacingAndGlyphs">0.53419</text>
<text x="761.5" y="498" fill="#000" stroke="#000" textLength="18" lengthAdjust="spacingAndGlyphs">0.00</text>
<text x="761.5" y="576" fill="#000" stroke="#000" textLength="30.5" lengthAdjust="spacingAndGlyphs">-0.6979</text>
<text x="18.5" y="14" fill="#000" stroke="#000" textLength="52.3" lengthAdjust="spacingAndGlyphs">USDRUR,H1</text>
<text x="78.2" y="14" fill="#000" stroke="#000" textLength="32.5" lengthAdjust="spacingAndGlyphs">59.1035</text>
<text x="114.1" y="14" fill="#000" stroke="#000" textLength="33" lengthAdjust="spacingAndGlyphs">59.2908</text>
<text x="150.9" y="14" fill="#000" stroke="#000" textLength="31.6" lengthAdjust="spacingAndGlyphs">59.0991</text>
<text x="186.2" y="14" fill="#000" stroke="#000" textLength="32.8" lengthAdjust="spacingAndGlyphs">59.2548</text>
<text x="7.5" y="441" fill="#000" stroke="#000" textLength="60" lengthAdjust="spacingAndGlyphs">MACD(5,34,5)</text>
<text x="71.8" y="441" fill="#000" stroke="#000" textLength="31" lengthAdjust="spacingAndGlyphs">0.47819</text>
<text x="107.3" y="441" fill="#000" stroke="#000" textLength="32.5" lengthAdjust="spacingAndGlyphs">0.34504</text>
<text x="2" y="592" fill="#000" stroke="#000" textLength="45" lengthAdjust="spacingAndGlyphs">9 Jan 2017</text>
<text x="66" y="592" fill="#000" stroke="#000" textLength="52.7" lengthAdjust="spacingAndGlyphs">10 Jan 16:00</text>
<text x="130" y="592" fill="#000" stroke="#000" textLength="52.7" lengthAdjust="spacingAndGlyphs">11 Jan 18:00</text>
<text x="194" y="592" fill="#000" stroke="#000" textLength="52.7" lengthAdjust="spacingAndGlyphs">12 Jan 20:00</text>
<text x="258" y="592" fill="#000" stroke="#000" textLength="52.7" lengthAdjust="spacingAndGlyphs">13 Jan 22:00</text>
<text x="322" y="592" fill="#000" stroke="#000" textLength="52.7" lengthAdjust="spacingAndGlyphs">17 Jan 10:00</text>
<text x="386" y="592" fill="#000" stroke="#000" textLength="52.7" lengthAdjust="spacingAndGlyphs">18 Jan 12:00</text>
<text x="450" y="592" fill="#000" stroke="#000" textLength="52.7" lengthAdjust="spacingAndGlyphs">19 Jan 14:00</text>
<text x="514" y="592" fill="#000" stroke="#000" textLength="52.7" lengthAdjust="spacingAndGlyphs">20 Jan 16:00</text>
<text x="578" y="592" fill="#000" stroke="#000" textLength="52.7" lengthAdjust="spacingAndGlyphs">23 Jan 18:00</text>
<text x="642" y="592" fill="#000" stroke="#000" textLength="52.7" lengthAdjust="spacingAndGlyphs">24 Jan 20:00</text>
<text x="706" y="592" fill="#000" stroke="#000" textLength="52.7" lengthAdjust="spacingAndGlyphs">25 Jan 22:00</text>
</svg></body></html>
